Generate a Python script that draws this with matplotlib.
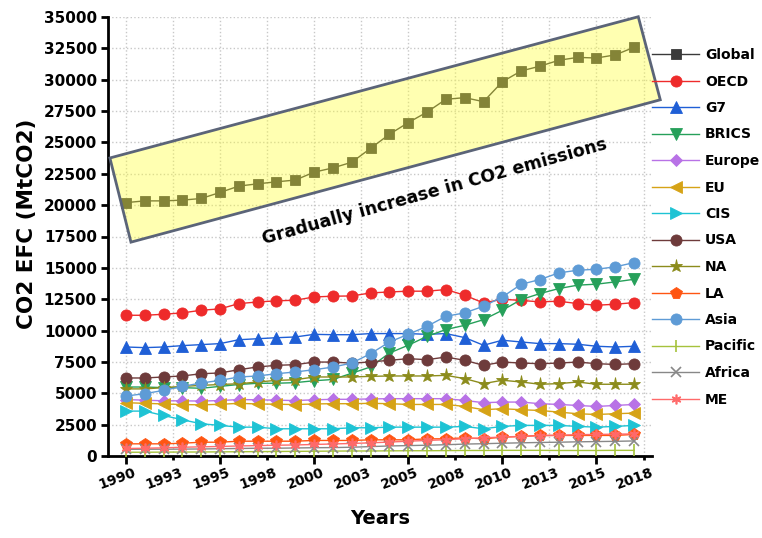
import matplotlib
matplotlib.use("Agg")
import matplotlib.pyplot as plt
import matplotlib.transforms as mtransforms
from matplotlib.patches import Polygon

plt.rcParams['font.family'] = ['DejaVu Sans']
plt.rcParams['font.weight'] = 'bold'

years = list(range(1990, 2018))
tick_pos = [1990 + 2.5 * k for k in range(12)]
tick_labels = ['1990', '1993', '1995', '1998', '2000', '2003', '2005', '2008',
               '2010', '2013', '2015', '2018']
ytick_vals = list(range(0, 35001, 2500))

global_ = [20200, 20340, 20340, 20400, 20530, 21010, 21520, 21700, 21860, 22000,
           22630, 22970, 23420, 24530, 25650, 26580, 27420, 28440, 28570, 28250,
           29840, 30700, 31080, 31550, 31780, 31730, 31980, 32585]
oecd = [11220, 11220, 11300, 11410, 11620, 11730, 12150, 12280, 12370, 12420,
        12680, 12740, 12760, 13000, 13080, 13140, 13140, 13270, 12820, 12200,
        12500, 12400, 12290, 12340, 12150, 12020, 12100, 12230]
g7 = [8690, 8640, 8690, 8800, 8880, 8960, 9270, 9350, 9430, 9490,
      9700, 9670, 9670, 9760, 9760, 9760, 9700, 9760, 9440, 8830,
      9230, 9090, 8960, 8960, 8910, 8750, 8690, 8750]
brics = [5500, 5500, 5450, 5450, 5400, 5550, 5700, 5800, 5800, 5850,
         6000, 6100, 6600, 7100, 8210, 8830, 9540, 10080, 10420, 10870,
         11620, 12470, 12950, 13350, 13620, 13700, 13880, 14090]
europe = [4500, 4450, 4400, 4400, 4380, 4420, 4500, 4480, 4450, 4420,
          4480, 4520, 4520, 4550, 4570, 4570, 4570, 4570, 4430, 4250,
          4300, 4300, 4170, 4110, 4030, 3950, 4030, 4110]
eu = [4250, 4200, 4150, 4100, 4080, 4120, 4200, 4150, 4130, 4100,
      4150, 4170, 4170, 4200, 4170, 4110, 4110, 4110, 3950, 3690,
      3770, 3690, 3630, 3500, 3370, 3310, 3370, 3420]
cis = [3580, 3580, 3230, 2890, 2570, 2440, 2300, 2300, 2170, 2170,
       2170, 2170, 2250, 2250, 2300, 2300, 2300, 2300, 2360, 2170,
       2360, 2440, 2440, 2440, 2360, 2300, 2360, 2440]
usa = [6220, 6220, 6300, 6380, 6560, 6620, 6880, 7100, 7230, 7280,
       7490, 7490, 7400, 7500, 7630, 7760, 7680, 7890, 7630, 7230,
       7490, 7410, 7360, 7410, 7490, 7360, 7300, 7360]
na = [5350, 5350, 5450, 5550, 5630, 5700, 5760, 5900, 6030, 6080,
      6300, 6300, 6300, 6350, 6380, 6380, 6380, 6430, 6170, 5770,
      6040, 5900, 5720, 5770, 5900, 5720, 5720, 5720]
la = [970, 970, 970, 1020, 1100, 1100, 1180, 1180, 1180, 1180,
      1240, 1240, 1240, 1290, 1290, 1290, 1370, 1370, 1450, 1370,
      1500, 1560, 1640, 1640, 1640, 1640, 1640, 1720]
asia = [4780, 4970, 5230, 5550, 5820, 6030, 6300, 6380, 6560, 6700,
        6880, 7090, 7410, 8160, 9090, 9700, 10340, 11140, 11410, 11940,
        12680, 13690, 14070, 14600, 14810, 14890, 15080, 15420]
pacific = [300, 300, 310, 315, 320, 330, 340, 350, 360, 370,
           380, 390, 400, 400, 410, 420, 420, 430, 440, 440,
           450, 450, 450, 440, 440, 440, 450, 450]
africa = [530, 540, 540, 550, 560, 580, 600, 620, 620, 640,
          660, 670, 700, 750, 800, 830, 860, 900, 950, 980,
          1020, 1050, 1080, 1100, 1130, 1150, 1170, 1200]
me = [600, 620, 650, 700, 730, 760, 800, 830, 860, 880,
      920, 960, 1000, 1050, 1110, 1180, 1240, 1300, 1380, 1440,
      1520, 1560, 1620, 1650, 1700, 1720, 1740, 1760]

series = [
    ('Global', global_, 's', '#3a3a3a', 6.5),
    ('OECD', oecd, 'o', '#ee2b2b', 8),
    ('G7', g7, '^', '#1f5fd6', 8),
    ('BRICS', brics, 'v', '#26a05a', 8),
    ('Europe', europe, 'D', '#b872e6', 6.5),
    ('EU', eu, '<', '#d6a316', 8),
    ('CIS', cis, '>', '#1ec3d4', 8),
    ('USA', usa, 'o', '#6e3b3b', 8),
    ('NA', na, '*', '#8c8c1c', 9.5),
    ('LA', la, 'p', '#ff5512', 8.5),
    ('Asia', asia, 'o', '#5e9bd6', 8),
    ('Pacific', pacific, '|', '#a6c23c', 8),
    ('Africa', africa, 'x', '#888888', 7),
    ('ME', me, (6, 2, 0), '#ff6a6a', 7),
]

fig = plt.figure(figsize=(7.62, 5.38), dpi=100)
ax = fig.add_axes([108 / 762, 1 - 456 / 538, 544 / 762, 439 / 538])

handles = []
for name, vals, mk, col, ms in series:
    h, = ax.plot(years, vals, marker=mk, color=col, markersize=ms, linewidth=1.0,
                 markeredgecolor=col,
                 markeredgewidth=1.2 if mk in ('|', 'x', (6, 2, 0)) else 0.6,
                 label=name, zorder=3)
    handles.append(h)

corners = [(1989.15, 23760), (2017.22, 35020), (2018.39, 28400), (1990.27, 17050)]
box = Polygon(corners, closed=True, facecolor=(1, 1, 0.2), alpha=0.38,
              edgecolor='none', zorder=4, clip_on=False)
ax.add_patch(box)
box_edge = Polygon(corners, closed=True, facecolor='none', edgecolor='#5b6478',
                   linewidth=2, zorder=5, clip_on=False)
ax.add_patch(box_edge)
ax.text(2006.4, 21100, 'Gradually increase in CO2 emissions', rotation=15.5,
        ha='center', va='center', fontsize=12.5, fontweight='bold', zorder=6,
        rotation_mode='anchor')

ax.set_xlim(1989.05, 2017.95)
ax.set_ylim(0, 35000)

ax.set_xticks(tick_pos[0::2], labels=tick_labels[0::2])
ax.set_xticks(tick_pos[1::2], labels=tick_labels[1::2], minor=True)
ax.set_yticks(ytick_vals)
ax.set_yticklabels([str(v) for v in ytick_vals])

ax.tick_params(axis='x', which='major', length=6, width=2, direction='out', pad=1)
ax.tick_params(axis='x', which='minor', length=3, width=2, direction='out', pad=4)
ax.tick_params(axis='y', which='major', length=5, width=2, direction='out', pad=3)

offset = mtransforms.ScaledTranslation(7 / 100, 0, fig.dpi_scale_trans)
for lab in ax.get_xticklabels(which='both'):
    lab.set_rotation(20)
    lab.set_ha('right')
    lab.set_rotation_mode('anchor')
    lab.set_fontsize(10)
    lab.set_fontweight('bold')
    lab.set_transform(lab.get_transform() + offset)
for lab in ax.get_yticklabels():
    lab.set_fontsize(11)
    lab.set_fontweight('bold')

ax.grid(True, which='both', axis='x', color='#c8c8c8', linestyle=':', linewidth=1)
ax.grid(True, which='major', axis='y', color='#c8c8c8', linestyle=':', linewidth=1)
ax.set_axisbelow(True)

for s in ('top', 'right'):
    ax.spines[s].set_visible(False)
for s in ('left', 'bottom'):
    ax.spines[s].set_linewidth(2)

ax.set_xlabel('Years', fontsize=14, fontweight='bold', labelpad=12)
ax.set_ylabel('CO2 EFC (MtCO2)', fontsize=15.5, fontweight='bold')
ax.yaxis.set_label_coords(-0.13, 0.528)

fig.legend(handles=handles, loc='upper left', bbox_to_anchor=(652 / 762, 1 - 48 / 538),
           frameon=False, handlelength=3.4, handletextpad=0.4,
           labelspacing=0.9, borderaxespad=0, borderpad=0,
           prop={'weight': 'bold', 'size': 10})

fig.savefig('out.png', dpi=100)
